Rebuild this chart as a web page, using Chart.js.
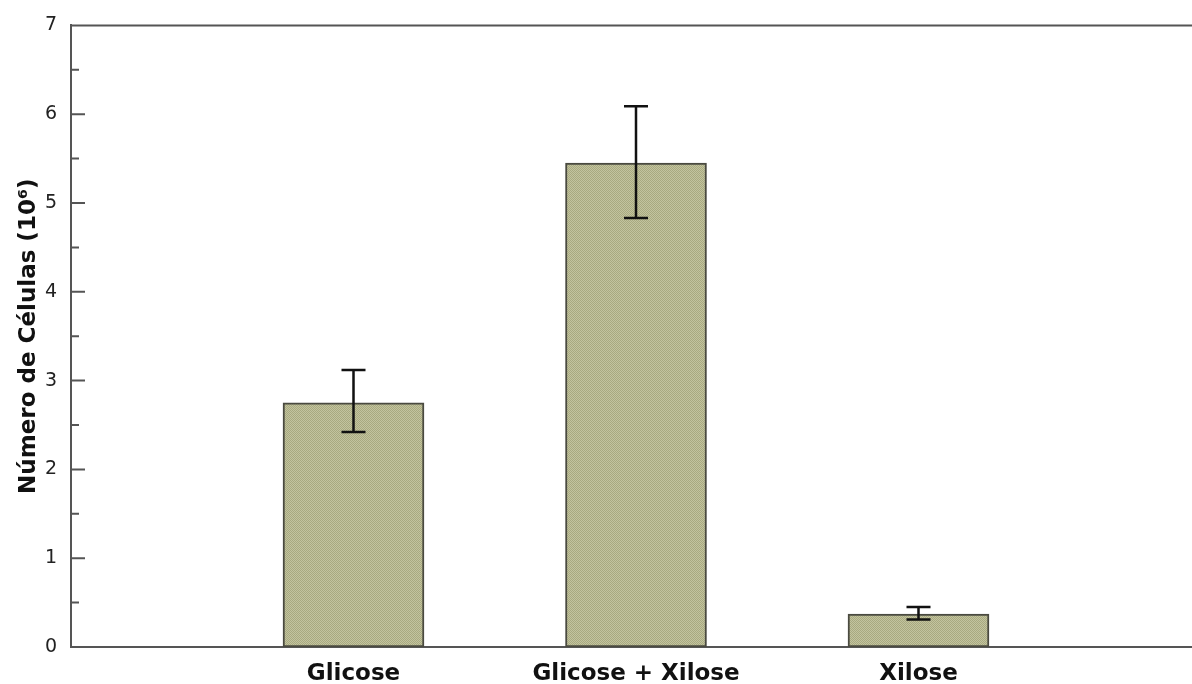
<!DOCTYPE html>
<html>
<head>
<meta charset="utf-8">
<script src="https://cdn.jsdelivr.net/npm/chart.js@4"></script>
<style>
  html, body { margin: 0; padding: 0; background: #fff; overflow: hidden; }
  #chart { display: block; }
</style>
</head>
<body>
<canvas id="chart" width="1201" height="684"></canvas>
<script>
// ── DATA ──
var categories = ['', 'Glicose', 'Glicose + Xilose', 'Xilose', ''];
var cellCounts = [null, 2.75, 5.45, 0.37, null];
var errLow     = [null, 2.42, 4.83, 0.31, null];
var errHigh    = [null, 3.12, 6.09, 0.45, null];
var yTicks     = [0, 1, 2, 3, 4, 5, 6, 7];

// dotted khaki fill like the original bars
function khakiPattern() {
  var p = document.createElement('canvas');
  p.width = 2; p.height = 2;
  var c = p.getContext('2d');
  c.fillStyle = '#c3c49f'; c.fillRect(0, 0, 2, 2);
  c.fillStyle = '#a8a980'; c.fillRect(0, 0, 1, 1); c.fillRect(1, 1, 1, 1);
  return c.createPattern(p, 'repeat');
}

// inward tick marks + top frame line
var frame = {
  id: 'frame',
  afterDraw: function(chart) {
    var ctx = chart.ctx, a = chart.chartArea, y = chart.scales.y;
    ctx.save();
    ctx.strokeStyle = '#555';
    ctx.lineWidth = 2;
    ctx.beginPath();
    ctx.moveTo(a.left, a.top); ctx.lineTo(chart.width, a.top);
    yTicks.forEach(function(v, i) {
      var py = y.getPixelForValue(v);
      ctx.moveTo(a.left, py); ctx.lineTo(a.left + 14, py);
      if (i < yTicks.length - 1) {
        var pm = y.getPixelForValue(v + 0.5);
        ctx.moveTo(a.left, pm); ctx.lineTo(a.left + 8, pm);
      }
    });
    ctx.stroke();
    ctx.restore();
  }
};

// error bars
var errorBars = {
  id: 'errorBars',
  afterDatasetsDraw: function(chart) {
    var ctx = chart.ctx, y = chart.scales.y, meta = chart.getDatasetMeta(0);
    ctx.save();
    ctx.strokeStyle = '#111';
    ctx.lineWidth = 2.5;
    meta.data.forEach(function(bar, i) {
      if (cellCounts[i] == null) return;
      var x = bar.x, lo = y.getPixelForValue(errLow[i]), hi = y.getPixelForValue(errHigh[i]);
      ctx.beginPath();
      ctx.moveTo(x, lo); ctx.lineTo(x, hi);
      ctx.moveTo(x - 12, lo); ctx.lineTo(x + 12, lo);
      ctx.moveTo(x - 12, hi); ctx.lineTo(x + 12, hi);
      ctx.stroke();
    });
    ctx.restore();
  }
};

new Chart(document.getElementById('chart').getContext('2d'), {
  type: 'bar',
  data: {
    labels: categories,
    datasets: [{
      data: cellCounts,
      backgroundColor: khakiPattern(),
      borderColor: '#4a4a40',
      borderWidth: 2,
      borderSkipped: false,
      barThickness: 141
    }]
  },
  plugins: [frame, errorBars],
  options: {
    responsive: false, animation: false,
    layout: { padding: { top: 24, left: 0, right: 0, bottom: 0 } },
    plugins: { legend: { display: false }, tooltip: { enabled: false } },
    scales: {
      x: {
        offset: false,
        grid: { display: false, drawTicks: false },
        border: { display: true, color: '#555', width: 2 },
        ticks: {
          autoSkip: false, maxRotation: 0, padding: 13, color: '#111',
          font: { family: 'DejaVu Sans', size: 23, weight: 'bold' }
        },
        afterFit: function(s) { s.height = 37; s.paddingLeft = 0; s.paddingRight = 0; }
      },
      y: {
        min: 0, max: 7,
        grid: { display: false, drawTicks: false },
        border: { display: true, color: '#555', width: 2 },
        ticks: {
          stepSize: 1, padding: 14, color: '#222',
          font: { family: 'DejaVu Sans', size: 19 }
        },
        title: {
          display: true,
          text: 'Número de Células (10⁶)',
          color: '#111',
          padding: { top: 15, bottom: 0 },
          font: { family: 'DejaVu Sans', size: 23, weight: 'bold' }
        },
        afterFit: function(s) { s.width = 71; }
      }
    }
  }
});
</script>
</body>
</html>
